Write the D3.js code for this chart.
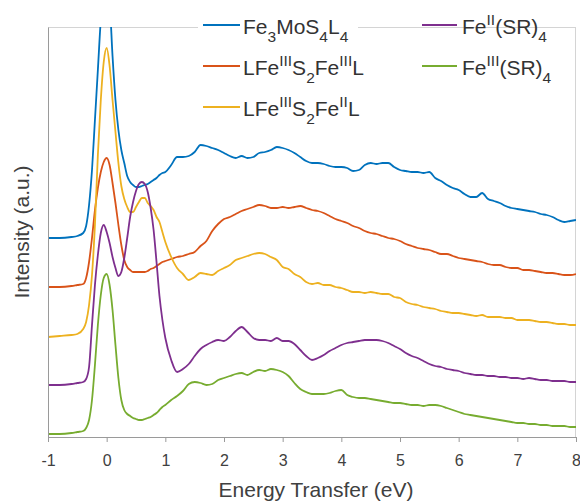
<!DOCTYPE html>
<html>
<head>
<meta charset="utf-8">
<script src="https://cdn.jsdelivr.net/npm/d3@7"></script>
<style>
  body { margin: 0; background: #fff; }
  text { font-family: "Liberation Sans", Arial, Helvetica, sans-serif; }
</style>
</head>
<body>
<svg id="chart" width="580" height="502"></svg>
<script>
// Energy transfer grid (eV), finer around the elastic line
const energy = [
  -1, -0.8, -0.6, -0.5, -0.4, -0.35, -0.3, -0.25, -0.2, -0.15, -0.1, -0.05,
  0, 0.05, 0.1, 0.15, 0.2, 0.25, 0.3, 0.35, 0.4, 0.45, 0.5, 0.55, 0.6, 0.65,
  0.7, 0.75, 0.8, 0.85, 0.9, 0.95, 1.0, 1.1, 1.2, 1.3, 1.4,
  1.5, 1.6, 1.7, 1.8, 1.9, 2.0, 2.1, 2.2, 2.3, 2.4,
  2.5, 2.6, 2.7, 2.8, 2.9, 3.0, 3.1, 3.2, 3.3, 3.4,
  3.5, 3.6, 3.7, 3.8, 3.9, 4.0, 4.1, 4.2, 4.3, 4.4,
  4.5, 4.6, 4.7, 4.8, 4.9, 5.0, 5.1, 5.2, 5.3, 5.4,
  5.5, 5.6, 5.7, 5.8, 5.9, 6.0, 6.1, 6.2, 6.3, 6.4,
  6.5, 6.6, 6.7, 6.8, 6.9, 7.0, 7.1, 7.2, 7.3, 7.4,
  7.5, 7.6, 7.7, 7.8, 7.9, 8.0
];

// Offset RIXS intensities (a.u.), one array per complex
const fe3mos4l4 = [
  19.9, 19.9, 20.0, 20.1, 20.4, 21.1, 23.2, 26.7, 31.7, 36.7, 41.7, 44.5,
  45.0, 43.5, 38.1, 33.7, 30.7, 28.7, 27.4, 26.1, 25.5, 25.2, 25.0, 25.0, 25.1, 25.2,
  25.3, 25.5, 25.7, 25.9, 26.2, 26.4, 26.5, 27.2, 28.0, 28.0, 28.1,
  28.5, 29.2, 29.1, 28.9, 28.7, 28.4, 28.1, 27.9, 28.1, 27.9,
  28.0, 28.4, 28.5, 28.7, 29.0, 28.9, 28.7, 28.4, 28.0, 27.6,
  27.4, 27.4, 27.3, 27.1, 27.0, 27.0, 26.9, 26.6, 26.7, 27.2,
  27.4, 27.3, 27.4, 27.4, 27.0, 26.7, 26.6, 26.5, 26.5, 26.4,
  26.5, 25.9, 25.6, 25.2, 24.9, 24.7, 24.3, 24.0, 24.0, 24.4,
  23.8, 23.6, 23.4, 23.1, 22.9, 22.8, 22.7, 22.6, 22.5, 22.3,
  22.2, 22.0, 21.7, 21.5, 21.6, 21.7
];
const lfe3s2fe3l = [
  15.0, 15.0, 15.1, 15.2, 15.3, 15.9, 17.5, 19.9, 22.7, 24.9, 26.5, 27.5,
  27.9, 27.2, 25.4, 23.4, 21.2, 19.2, 17.7, 17.0, 16.7, 16.5, 16.5, 16.5, 16.5, 16.5,
  16.6, 16.8, 16.9, 17.1, 17.3, 17.5, 17.6, 17.8, 18.0, 18.1, 18.3,
  18.5, 19.1, 19.6, 20.6, 21.3, 21.8, 22.0, 22.3, 22.6, 22.8,
  23.0, 23.2, 23.1, 22.9, 22.9, 23.0, 22.9, 23.0, 23.1, 22.9,
  22.7, 22.6, 22.4, 22.1, 21.8, 21.6, 21.4, 21.1, 20.9, 20.6,
  20.4, 20.3, 20.1, 19.9, 19.8, 19.6, 19.3, 19.1, 18.9, 18.8,
  18.7, 18.5, 18.3, 18.3, 18.1, 17.9, 17.8, 17.7, 17.6, 17.5,
  17.3, 17.2, 17.2, 17.0, 16.9, 16.9, 16.7, 16.7, 16.6, 16.5,
  16.4, 16.4, 16.3, 16.2, 16.2, 16.3
];
const lfe3s2fe2l = [
  10.0, 10.1, 10.2, 10.3, 10.8, 11.5, 13.2, 16.2, 21.2, 28.2, 33.7, 37.5,
  38.9, 37.1, 33.7, 30.5, 27.4, 25.1, 23.8, 23.0, 22.5, 22.5, 23.0, 23.5, 23.9, 23.9,
  23.4, 23.1, 22.7, 22.0, 21.5, 20.5, 19.5, 18.0, 16.9, 16.3, 15.7,
  16.0, 16.4, 16.3, 16.2, 16.6, 16.9, 17.2, 17.7, 17.9, 18.1,
  18.3, 18.4, 18.3, 18.0, 17.7, 17.0, 16.8, 16.3, 16.0, 15.5,
  15.3, 15.4, 15.2, 15.2, 15.0, 14.9, 14.7, 14.5, 14.5, 14.4,
  14.5, 14.4, 14.3, 14.3, 14.0, 13.9, 13.5, 13.3, 13.2, 13.0,
  12.9, 12.8, 12.6, 12.5, 12.4, 12.4, 12.3, 12.2, 12.1, 12.2,
  12.0, 12.0, 12.0, 11.9, 11.9, 11.7, 11.7, 11.7, 11.6, 11.5,
  11.5, 11.4, 11.3, 11.3, 11.2, 11.2
];
const fe2sr4 = [
  5.2, 5.2, 5.3, 5.4, 5.5, 5.8, 7.0, 11.2, 15.2, 18.2, 20.4, 21.2,
  20.5, 19.4, 18.0, 16.9, 16.1, 16.5, 17.9, 19.9, 22.0, 23.5, 24.6, 25.3, 25.5, 25.3,
  24.5, 22.9, 20.7, 17.5, 14.1, 11.7, 9.9, 7.7, 6.5, 6.8, 7.3,
  8.1, 8.8, 9.2, 9.5, 9.7, 9.6, 10.0, 10.6, 11.0, 10.5,
  9.9, 9.7, 9.7, 9.6, 9.9, 9.6, 9.6, 9.3, 8.7, 8.1,
  7.7, 7.9, 8.2, 8.6, 8.9, 9.2, 9.4, 9.5, 9.6, 9.7,
  9.7, 9.7, 9.6, 9.4, 9.1, 8.8, 8.4, 8.1, 7.9, 7.6,
  7.3, 7.1, 7.0, 6.8, 6.7, 6.6, 6.4, 6.3, 6.2, 6.2,
  6.1, 6.1, 6.0, 6.0, 5.9, 5.9, 5.8, 5.9, 5.8, 5.7,
  5.7, 5.6, 5.6, 5.6, 5.5, 5.5
];
const fe3sr4 = [
  0.3, 0.3, 0.4, 0.5, 0.6, 0.9, 1.7, 3.7, 7.2, 11.2, 14.2, 15.9,
  16.3, 15.2, 12.7, 9.2, 5.9, 3.7, 2.7, 2.3, 2.1, 1.9, 1.8, 1.7, 1.7, 1.8,
  1.9, 2.0, 2.2, 2.4, 2.7, 3.0, 3.2, 3.7, 4.1, 4.6, 5.3,
  5.5, 5.4, 5.2, 5.3, 5.7, 5.9, 6.1, 6.3, 6.4, 6.2,
  6.5, 6.7, 6.6, 6.8, 6.7, 6.5, 6.1, 5.4, 4.8, 4.5,
  4.3, 4.3, 4.3, 4.4, 4.6, 4.7, 4.2, 4.0, 3.9, 3.9,
  3.8, 3.7, 3.6, 3.5, 3.4, 3.4, 3.3, 3.2, 3.2, 3.1,
  3.2, 3.2, 3.1, 2.9, 2.7, 2.5, 2.3, 2.2, 2.1, 2.0,
  1.9, 1.8, 1.7, 1.6, 1.5, 1.4, 1.4, 1.3, 1.3, 1.2,
  1.2, 1.1, 1.1, 1.1, 1.0, 1.0
];

// Legend labels as rich-text segments (sub = subscript, sup = superscript)
const labelFe3MoS4L4 = [["Fe"], ["3", "sub"], ["MoS"], ["4", "sub"], ["L"], ["4", "sub"]];
const labelFe3Fe3 = [["LFe"], ["III", "sup"], ["S"], ["2", "sub"], ["Fe"], ["III", "sup"], ["L"]];
const labelFe3Fe2 = [["LFe"], ["III", "sup"], ["S"], ["2", "sub"], ["Fe"], ["II", "sup"], ["L"]];
const labelFe2SR4 = [["Fe"], ["II", "sup"], ["(SR)"], ["4", "sub"]];
const labelFe3SR4 = [["Fe"], ["III", "sup"], ["(SR)"], ["4", "sub"]];

const xTicks = [-1, 0, 1, 2, 3, 4, 5, 6, 7, 8];
const xLabel = "Energy Transfer (eV)";
const yLabel = "Intensity (a.u.)";

const series = [
  { label: labelFe3MoS4L4, values: fe3mos4l4, color: "#0072BD", col: 0, row: 0 },
  { label: labelFe3Fe3,    values: lfe3s2fe3l, color: "#D95319", col: 0, row: 1 },
  { label: labelFe3Fe2,    values: lfe3s2fe2l, color: "#EDB120", col: 0, row: 2 },
  { label: labelFe2SR4,    values: fe2sr4,     color: "#7E2F8E", col: 1, row: 0 },
  { label: labelFe3SR4,    values: fe3sr4,     color: "#77AC30", col: 1, row: 1 }
];

const plot = { left: 48, right: 576, top: 27, bottom: 437 };
const svg = d3.select("#chart");

const x = d3.scaleLinear().domain([-1, 8]).range([plot.left, plot.right]);
const y = d3.scaleLinear().domain([0, 41]).range([plot.bottom, plot.top]);

// Clip region for the spectra
svg.append("defs").append("clipPath").attr("id", "plot-clip")
  .append("rect")
  .attr("x", plot.left).attr("y", plot.top)
  .attr("width", plot.right - plot.left).attr("height", plot.bottom - plot.top);

// Light frame on top and right
svg.append("line")
  .attr("x1", plot.left).attr("x2", plot.right)
  .attr("y1", plot.top + 0.5).attr("y2", plot.top + 0.5)
  .attr("stroke", "#d4d4d4").attr("stroke-width", 1);
svg.append("line")
  .attr("x1", plot.right - 0.5).attr("x2", plot.right - 0.5)
  .attr("y1", plot.top).attr("y2", plot.bottom)
  .attr("stroke", "#d4d4d4").attr("stroke-width", 1);

// Spectra
const line = d3.line()
  .x((d, i) => x(energy[i]))
  .y(d => y(d))
  .curve(d3.curveMonotoneX);

svg.append("g").attr("clip-path", "url(#plot-clip)")
  .selectAll("path")
  .data(series)
  .join("path")
  .attr("d", s => line(s.values))
  .attr("fill", "none")
  .attr("stroke", s => s.color)
  .attr("stroke-width", 1.8)
  .attr("stroke-linejoin", "round");

// Bottom axis
const xAxis = svg.append("g")
  .attr("transform", `translate(0,${plot.bottom})`)
  .call(d3.axisBottom(x).tickValues(xTicks).tickSizeInner(5).tickSizeOuter(0).tickPadding(13)
    .tickFormat(d3.format("d")));
xAxis.select(".domain").attr("stroke", "#9a9a9a");
xAxis.selectAll(".tick line").attr("stroke", "#9a9a9a");
xAxis.selectAll(".tick text")
  .attr("font-size", 16)
  .attr("fill", "#404040")
  .style("font-family", "'Liberation Sans', Arial, sans-serif")
  .text(d => d < 0 ? "-" + Math.abs(d) : d);

// Left axis: plain line, no tick marks
const yAxis = svg.append("g")
  .attr("transform", `translate(${plot.left},0)`)
  .call(d3.axisLeft(y).tickValues([]).tickSizeOuter(0));
yAxis.select(".domain").attr("stroke", "#9a9a9a");

// Axis titles
svg.append("text")
  .attr("x", 316).attr("y", 497)
  .attr("text-anchor", "middle")
  .attr("font-size", 21)
  .attr("fill", "#404040")
  .text(xLabel);

svg.append("text")
  .attr("transform", `translate(29,${(plot.top + plot.bottom) / 2}) rotate(-90)`)
  .attr("text-anchor", "middle")
  .attr("font-size", 21)
  .attr("fill", "#404040")
  .text(yLabel);

// Legend
const legend = svg.append("g");
legend.append("rect")
  .attr("x", 198).attr("y", 0)
  .attr("width", 160).attr("height", 126)
  .attr("fill", "#fff");

const colX = [{ l1: 203, l2: 240, t: 243 }, { l1: 422, l2: 457, t: 462 }];
const rowBase = [34, 75, 116];

const entry = legend.selectAll("g.entry")
  .data(series)
  .join("g")
  .attr("class", "entry");

entry.append("line")
  .attr("x1", s => colX[s.col].l1)
  .attr("x2", s => colX[s.col].l2)
  .attr("y1", s => rowBase[s.row] - 9)
  .attr("y2", s => rowBase[s.row] - 9)
  .attr("stroke", s => s.color)
  .attr("stroke-width", 2);

entry.append("text")
  .attr("x", s => colX[s.col].t)
  .attr("y", s => rowBase[s.row])
  .attr("font-size", 21)
  .attr("fill", "#333")
  .each(function (s) {
    const t = d3.select(this);
    let offset = 0;
    s.label.forEach(([str, kind]) => {
      const target = kind === "sub" ? 8 : kind === "sup" ? -9 : 0;
      t.append("tspan")
        .attr("dy", target - offset)
        .attr("font-size", kind ? 15.5 : 21)
        .text(str);
      offset = target;
    });
  });
</script>
</body>
</html>
